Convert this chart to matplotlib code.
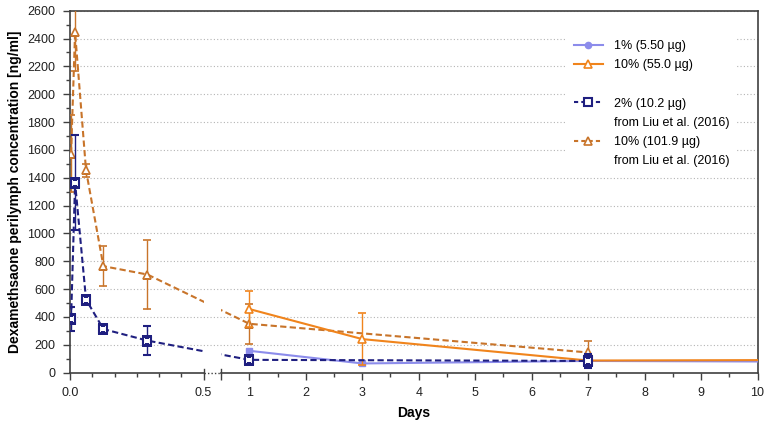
import numpy as np
import matplotlib
matplotlib.use('Agg')
import matplotlib.pyplot as plt
from matplotlib.lines import Line2D
from matplotlib.path import Path
from matplotlib.patches import PathPatch

plt.rcParams['font.family'] = ['Liberation Sans', 'DejaVu Sans']

# data (days / ng/ml)
t_1pct = [1, 3, 7, 14]
c_1pct = [156, 65, 83, 74]

t_10pct = [1, 3, 7, 14]
c_10pct = [456, 240, 86, 93]
e_10pct = [128, 187, 12, 0]

t_liu2 = [0.004, 0.019, 0.06, 0.125, 0.29, 1, 7]
c_liu2 = [384, 1364, 524, 312, 229, 91, 83]
e_liu2 = [85, 340, 0, 0, 105, 0, 50]

t_liu10 = [0.004, 0.019, 0.06, 0.125, 0.29, 1, 7]
c_liu10 = [1573, 2445, 1453, 764, 704, 350, 144]
e_liu10 = [275, 276, 45, 144, 247, 143, 79]

c_lblue = '#8c8ceb'
c_orange = '#f0841c'
c_dorange = '#c8742a'
c_navy = '#1f1f80'
c_spine = '#404040'

# broken x axis: 0-0.5 stretched, then gap, then 0.5-10
BRK = 0.5
BRK2 = 0.500001
LEFT_W = 133.5
RIGHT0 = 151.0
SLOPE = 56.42


def fwd(t):
    t = np.asarray(t, dtype=float)
    return np.where(t <= BRK, t * LEFT_W / BRK, RIGHT0 + (t - BRK) * SLOPE)


def inv(u):
    u = np.asarray(u, dtype=float)
    return np.where(u <= LEFT_W, u * BRK / LEFT_W,
                    np.where(u < RIGHT0, BRK, BRK + (u - RIGHT0) / SLOPE))


fig = plt.figure(figsize=(7.67, 4.25), dpi=100)
ax = fig.add_axes([70 / 767, 1 - 372.5 / 425, 687.5 / 767, 361.8 / 425])
ax.set_xscale('function', functions=(fwd, inv))
ax.set_xlim(0, 10)
ax.set_ylim(0, 2600)

ax.yaxis.grid(True, linestyle=(0, (1, 2)), color='#b4b4b4', linewidth=0.8)
ax.set_axisbelow(True)

# clip region leaving a gap at the axis break
u_end = fwd(10)
x1 = LEFT_W / u_end
x2 = RIGHT0 / u_end
verts = [(-0.05, -0.05), (x1, -0.05), (x1, 1.05), (-0.05, 1.05), (0, 0),
         (x2, -0.05), (1.0, -0.05), (1.0, 1.05), (x2, 1.05), (0, 0)]
codes = [Path.MOVETO, Path.LINETO, Path.LINETO, Path.LINETO, Path.CLOSEPOLY] * 2
clip = PathPatch(Path(verts, codes), transform=ax.transAxes, facecolor='none', edgecolor='none')
ax.add_patch(clip)

eb = ax.errorbar(t_liu10, c_liu10, yerr=e_liu10, color=c_dorange, linestyle=(0, (3, 1.6)),
                 linewidth=1.5, marker='^', markersize=6, markerfacecolor='white',
                 markeredgewidth=1.2, capsize=3, elinewidth=1, zorder=3)
eb.lines[0].set_clip_path(clip)

ax.plot(t_1pct, c_1pct, color=c_lblue, linewidth=1.5, marker='s', markersize=4.5, zorder=4)
ax.errorbar(t_10pct, c_10pct, yerr=e_10pct, color=c_orange, linewidth=1.5, marker='^',
            markersize=6, markerfacecolor='white', markeredgewidth=1.2, capsize=3,
            elinewidth=1, zorder=4)

eb = ax.errorbar(t_liu2, c_liu2, yerr=e_liu2, color=c_navy, linestyle=(0, (3, 1.6)),
                 linewidth=1.5, marker='s', markersize=5.5, markerfacecolor='white',
                 markeredgewidth=1.5, capsize=3, elinewidth=1, zorder=5)
eb.lines[0].set_clip_path(clip)

# ticks
major = [0, BRK, BRK2] + list(range(1, 11))
labels = ['0.0', '0.5', ''] + [str(i) for i in range(1, 11)]
ax.set_xticks(major)
ax.set_xticklabels(labels)
minor = [i / 12 for i in range(1, 6)] + [i + 0.5 for i in range(1, 10)]
ax.set_xticks(minor, minor=True)
ax.set_yticks(np.arange(0, 2601, 200))
ax.set_yticks(np.arange(100, 2600, 200), minor=True)
ax.tick_params(which='major', direction='out', length=5, width=1, color=c_spine,
               labelsize=9, labelcolor='#202020')
ax.tick_params(which='minor', direction='out', length=3, width=1, color=c_spine)
ax.tick_params(axis='x', which='major', pad=5.5)
ax.tick_params(axis='y', which='major', pad=5.5)

for s in ['top', 'right', 'left']:
    ax.spines[s].set_color(c_spine)
    ax.spines[s].set_linewidth(1.2)
ax.spines['bottom'].set_visible(False)

# bottom axis line with break
xt = ax.get_xaxis_transform()
ax.plot([0, BRK], [0, 0], color=c_spine, lw=1.2, transform=xt, clip_on=False, zorder=6)
ax.plot([BRK, BRK2], [0, 0], color=c_spine, lw=1.0, linestyle=(0, (1, 1.5)),
        transform=xt, clip_on=False, zorder=6)
ax.plot([BRK2, 10], [0, 0], color=c_spine, lw=1.2, transform=xt, clip_on=False, zorder=6)
for b in [BRK, BRK2]:
    ax.plot([b, b], [0, 0.01], color=c_spine, lw=1, transform=xt, clip_on=False, zorder=6)

ax.set_xlabel('Days', fontsize=10, fontweight='bold', labelpad=5)
ax.set_ylabel('Dexamethsaone perilymph concentration [ng/ml]', fontsize=10,
              fontweight='bold', labelpad=4)

# legend
h1 = Line2D([], [], color=c_lblue, lw=1.5, marker='o', markersize=4.5)
h2 = Line2D([], [], color=c_orange, lw=1.5, marker='^', markersize=6,
            markerfacecolor='white', markeredgewidth=1.2)
h3 = Line2D([], [], color=c_navy, lw=1.5, linestyle=(0, (2, 1.5)), marker='s',
            markersize=5.5, markerfacecolor='white', markeredgewidth=1.5)
h4 = Line2D([], [], color=c_dorange, lw=1.5, linestyle=(0, (2, 1.5)), marker='^',
            markersize=6, markerfacecolor='white', markeredgewidth=1.2)
blank = Line2D([], [], linestyle='none')
leg = ax.legend([h1, h2, blank, h3, blank, h4, blank],
                ['1% (5.50 µg)', '10% (55.0 µg)', ' ', '2% (10.2 µg)',
                 'from Liu et al. (2016)', '10% (101.9 µg)', 'from Liu et al. (2016)'],
                loc='upper left', bbox_to_anchor=(0.722, 0.94), fontsize=9,
                frameon=True, framealpha=1, edgecolor='none', facecolor='white',
                fancybox=False, handlelength=2.3, handletextpad=0.9,
                labelspacing=0.58, borderaxespad=0, borderpad=0.6)
leg.set_zorder(7)

fig.savefig('out.png', dpi=100)
